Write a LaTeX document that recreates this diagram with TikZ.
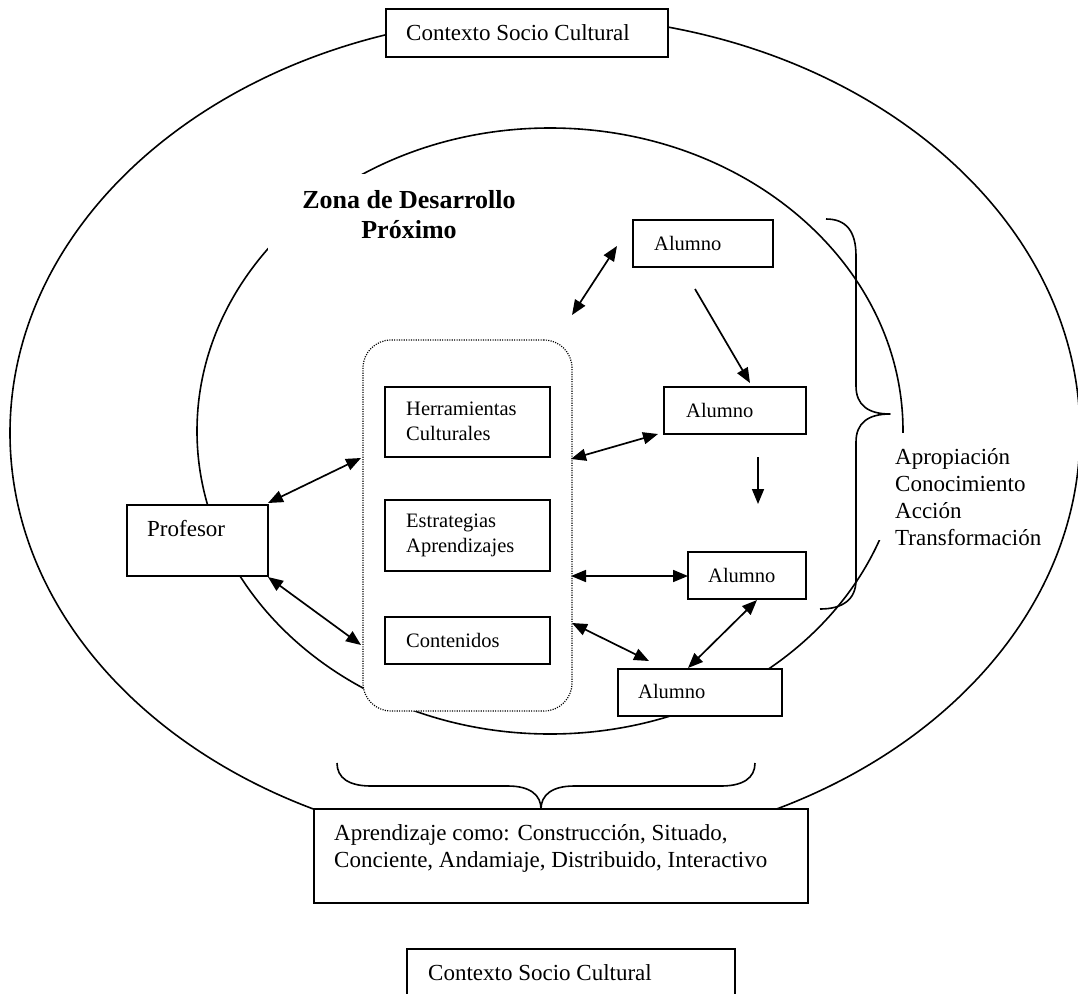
\documentclass[tikz,border=0pt]{standalone}
\usepackage{fontspec}
\setmainfont{Liberation Serif}
\usetikzlibrary{arrows.meta}

\begin{document}
\begin{tikzpicture}[x=1pt,y=-1pt,
  ring/.style={line width=1.6pt},
  box/.style={draw, fill=white, line width=1.8pt, inner sep=0pt, outer sep=0pt},
  cover/.style={fill=white, draw=none, inner sep=0pt, outer sep=0pt},
  % multi-line texts are placed by the baseline of their last line
  txt/.style={anchor=base west, inner sep=0pt, font=\fontsize{23}{26.8}\selectfont, align=left},
  smalltxt/.style={anchor=base west, inner sep=0pt, font=\fontsize{20.5}{25}\selectfont, align=left},
  tip/.tip={Triangle[length=15pt,width=12pt]},
  link/.style={line width=1.7pt, tip-tip},
  flow/.style={line width=1.7pt, -tip},
  brace/.style={line width=1.6pt, line join=round}
]
\useasboundingbox (0,0) rectangle (1078,993);
\fill[white] (0,0) rectangle (1078,993);
\clip (0,0) rectangle (1078,993);

% the two contexts: socio-cultural ring and the zone of proximal development
\draw[ring] (545,433) ellipse [x radius=535pt, y radius=417pt];
\draw[ring] (550,431) ellipse [x radius=353pt, y radius=303pt];

% white text areas that interrupt the inner ring
\node[cover, minimum width=292pt, minimum height=78pt] (zonacover) at (414,213) {};
\node[cover, minimum width=184pt, minimum height=107pt] (apcover) at (960,486.5) {};

% mediating elements
\node[draw, fill=white, line width=1.2pt, dash pattern=on 1.1pt off 1.3pt,
      rounded corners=28pt, minimum width=209pt, minimum height=371pt,
      inner sep=0pt, outer sep=0pt] (grp) at (467.5,525.5) {};

\node[box, minimum width=282pt, minimum height=48pt] (top) at (527,33) {};
\node[box, minimum width=165pt, minimum height=70pt] (herr) at (467.5,422) {};
\node[box, minimum width=165pt, minimum height=71pt] (estr) at (467.5,535.5) {};
\node[box, minimum width=165pt, minimum height=47pt] (cont) at (467.5,640.5) {};
\node[box, minimum width=141pt, minimum height=71pt] (prof) at (197.5,540.5) {};
\node[box, minimum width=140pt, minimum height=47pt] (al1) at (703,243.5) {};
\node[box, minimum width=142pt, minimum height=47pt] (al2) at (735,410.5) {};
\node[box, minimum width=118pt, minimum height=47pt] (al3) at (747,575.5) {};
\node[box, minimum width=164pt, minimum height=47pt] (al4) at (700,692.5) {};
\node[box, minimum width=494pt, minimum height=94pt] (apr) at (561,856) {};
\node[box, minimum width=328pt, minimum height=61pt] (ctx) at (571,979.5) {};

% connector end points
\coordinate (g1) at (572,315);   \coordinate (p1) at (617,246);
\coordinate (f1) at (695,289);   \coordinate (q1) at (750,383);
\coordinate (g2) at (571,459);   \coordinate (p2) at (658,434);
\coordinate (f2) at (758,457);   \coordinate (q2) at (758,504);
\coordinate (g3) at (571,576);   \coordinate (p3) at (688,576);
\coordinate (g4) at (572,623);   \coordinate (p4) at (649,661);
\coordinate (s4) at (688,668);   \coordinate (s3) at (757,600);
\coordinate (pr1) at (268,503);  \coordinate (gh) at (361,458);
\coordinate (pr2) at (268,577);  \coordinate (gc) at (361,645);

\draw[link] (g1) -- (p1);
\draw[flow] (f1) -- (q1);
\draw[link] (g2) -- (p2);
\draw[flow] (f2) -- (q2);
\draw[link] (g3) -- (p3);
\draw[link] (g4) -- (p4);
\draw[link] (s4) -- (s3);
\draw[link] (pr1) -- (gh);
\draw[link] (pr2) -- (gc);

% braces
\coordinate (rb1) at (826,219);
\coordinate (rbtip) at (890,414);
\coordinate (rb2) at (820,609);
\draw[brace] (rb1) .. controls (846,219) and (856,231) .. (856,256)
  -- (856,386) .. controls (856,405) and (868,414) .. (rbtip)
  .. controls (868,414) and (856,423) .. (856,442)
  -- (856,580) .. controls (856,600) and (842,609) .. (rb2);

\coordinate (bb1) at (337,763);
\coordinate (bbtip) at (541,809);
\coordinate (bb2) at (755,763);
\draw[brace] (bb1) .. controls (337,778) and (349,786) .. (371,786)
  -- (508,786) .. controls (530,786) and (541,795) .. (bbtip)
  .. controls (541,795) and (552,786) .. (574,786)
  -- (721,786) .. controls (743,786) and (755,778) .. (bb2);

% texts
\node[txt] (topT) at (406,40) {Contexto Socio Cultural};
\node[anchor=base, inner sep=0pt, align=center,
      font=\fontsize{26}{30}\selectfont\bfseries] (zona) at (409,238)
      {Zona de Desarrollo\\Próximo};
\node[smalltxt] (herrT) at (406,440) {Herramientas\\Culturales};
\node[smalltxt] (estrT) at (406,552) {Estrategias\\Aprendizajes};
\node[smalltxt] (contT) at (406,647) {Contenidos};
\node[txt] (profT) at (147,536) {Profesor};
\node[smalltxt] (al1T) at (654,250) {Alumno};
\node[smalltxt] (al2T) at (686,417) {Alumno};
\node[smalltxt] (al3T) at (708,582) {Alumno};
\node[smalltxt] (al4T) at (638,698) {Alumno};
\node[txt] (apT) at (895,545) {Apropiación\\Conocimiento\\Acción\\Transformación};
\node[txt] (aprT) at (334,867) {Aprendizaje como: Construcción, Situado,\\Conciente, Andamiaje, Distribuido, Interactivo};
\node[txt] (ctxT) at (428,980) {Contexto Socio Cultural};
\end{tikzpicture}
\end{document}
